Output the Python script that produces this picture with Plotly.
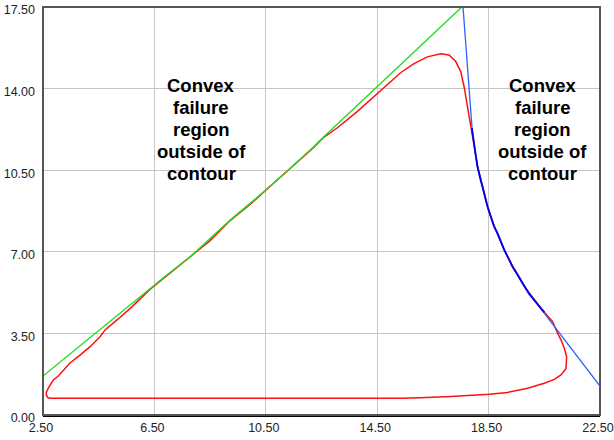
import plotly.graph_objects as go

# Failure contour (closed loop)
contour_x = [2.78, 2.68, 2.62, 2.62, 2.69, 2.87, 3.05, 3.23, 3.47, 3.83, 4.19, 4.55, 4.73,
             5.20, 5.70, 6.35, 7.00, 7.79, 8.50, 9.23, 10.00, 10.49, 11.38, 12.22, 12.57,
             13.06, 13.78, 14.20, 14.62, 14.98, 15.34, 15.82, 16.30, 16.78, 17.08, 17.32,
             17.50, 17.62, 17.76, 17.86, 18.00, 18.10, 18.28, 18.46, 18.70, 19.06, 19.36,
             19.78, 20.38, 20.80, 20.98, 21.10, 21.22, 21.30, 21.28, 21.10, 20.86, 20.50,
             19.90, 19.18, 18.52, 17.74, 17.14, 16.06, 15.34, 10.00, 2.78]
contour_y = [0.72, 0.74, 0.85, 0.98, 1.15, 1.50, 1.67, 1.93, 2.23, 2.57, 2.93, 3.36, 3.65,
             4.12, 4.65, 5.40, 6.02, 6.77, 7.48, 8.35, 9.10, 9.63, 10.56, 11.48, 11.90,
             12.31, 13.01, 13.45, 13.93, 14.30, 14.68, 15.07, 15.36, 15.49, 15.44, 15.16,
             14.73, 14.08, 13.08, 12.37, 11.50, 10.70, 9.82, 8.96, 8.10, 7.10, 6.38,
             5.52, 4.58, 4.00, 3.50, 3.22, 2.86, 2.50, 2.00, 1.72, 1.53, 1.36,
             1.15, 0.97, 0.89, 0.82, 0.79, 0.74, 0.72, 0.72, 0.72]

# Left convex envelope
left_env_x = [2.50, 6.35, 7.00, 7.79, 8.50, 9.23, 10.00, 10.49, 11.38, 12.22, 12.50, 17.54]
left_env_y = [1.67, 5.44, 6.06, 6.79, 7.55, 8.37, 9.14, 9.65, 10.58, 11.51, 11.84, 17.50]

# Right convex envelope
right_env_x = [17.58, 17.92, 18.10, 18.28, 18.46, 18.70, 19.06, 19.36, 19.78, 20.38, 22.50]
right_env_y = [17.52, 12.08, 10.65, 9.79, 8.94, 8.08, 7.08, 6.36, 5.51, 4.55, 1.24]

# Traced section of the right envelope
right_trace_x = [17.90, 17.95, 17.99, 18.06, 18.10, 18.16, 18.22, 18.28, 18.36, 18.46,
                 18.55, 18.70, 18.82, 18.95, 19.06, 19.20, 19.36, 19.50, 19.64, 19.78,
                 19.95, 20.10, 20.25, 20.38, 20.50]
right_trace_y = [12.30, 11.80, 11.45, 10.95, 10.65, 10.30, 10.05, 9.79, 9.38, 8.94,
                 8.60, 8.08, 7.80, 7.40, 7.08, 6.75, 6.36, 6.10, 5.80, 5.51,
                 5.20, 4.98, 4.75, 4.55, 4.40]

x_ticks = [2.5, 6.5, 10.5, 14.5, 18.5, 22.5]
y_ticks = [0.0, 3.5, 7.0, 10.5, 14.0, 17.5]

label_lines = ["Convex", "failure", "region", "outside of", "contour"]
label_anchors_x = [8.18, 20.45]
label_top_y = 14.15

fig = go.Figure()
fig.add_trace(go.Scatter(x=contour_x, y=contour_y, mode="lines",
                         line=dict(color="#ff1010", width=1.5), hoverinfo="skip"))
fig.add_trace(go.Scatter(x=left_env_x, y=left_env_y, mode="lines",
                         line=dict(color="#22dd22", width=1.4), hoverinfo="skip"))
fig.add_trace(go.Scatter(x=right_env_x, y=right_env_y, mode="lines",
                         line=dict(color="#2962ff", width=1.3), hoverinfo="skip"))
fig.add_trace(go.Scatter(x=right_trace_x, y=right_trace_y, mode="lines",
                         line=dict(color="#0000ee", width=1.8), hoverinfo="skip"))

for ax in label_anchors_x:
    for i, txt in enumerate(label_lines):
        fig.add_annotation(x=ax, y=label_top_y, xref="x", yref="y", text="<b>%s</b>" % txt,
                           showarrow=False, yshift=-22 * i, xanchor="center", yanchor="middle",
                           font=dict(family="Liberation Sans, Arial, Helvetica", size=18.5,
                                     color="#000000"))

# outer frame
fig.add_shape(type="rect", xref="paper", yref="paper", x0=0, x1=1, y0=0, y1=1,
              line=dict(color="#555555", width=2), layer="above")

fig.update_layout(
    width=614, height=440,
    margin=dict(l=43, r=14, t=7, b=25, autoexpand=False),
    paper_bgcolor="white", plot_bgcolor="white",
    showlegend=False,
    font=dict(family="Liberation Sans, Arial, Helvetica", size=12.5, color="#222222"),
)
fig.update_xaxes(range=[2.5, 22.5], tickvals=x_ticks, tickformat=".2f",
                 showgrid=True, gridcolor="#c6c6c6", gridwidth=1.2,
                 showline=True, linecolor="#000000", linewidth=2,
                 zeroline=False, ticks="", fixedrange=True,
                 automargin=False, ticklabeloverflow="allow",
                 ticklabelstandoff=0, ticklabelshift=-2)
fig.update_yaxes(range=[0, 17.5], tickvals=y_ticks, tickformat=".2f",
                 showgrid=True, gridcolor="#c6c6c6", gridwidth=1.2,
                 showline=False, zeroline=False, ticks="", fixedrange=True,
                 automargin=False, ticklabeloverflow="allow",
                 ticklabelstandoff=7, ticklabelshift=3)

fig.write_html("out.html")
